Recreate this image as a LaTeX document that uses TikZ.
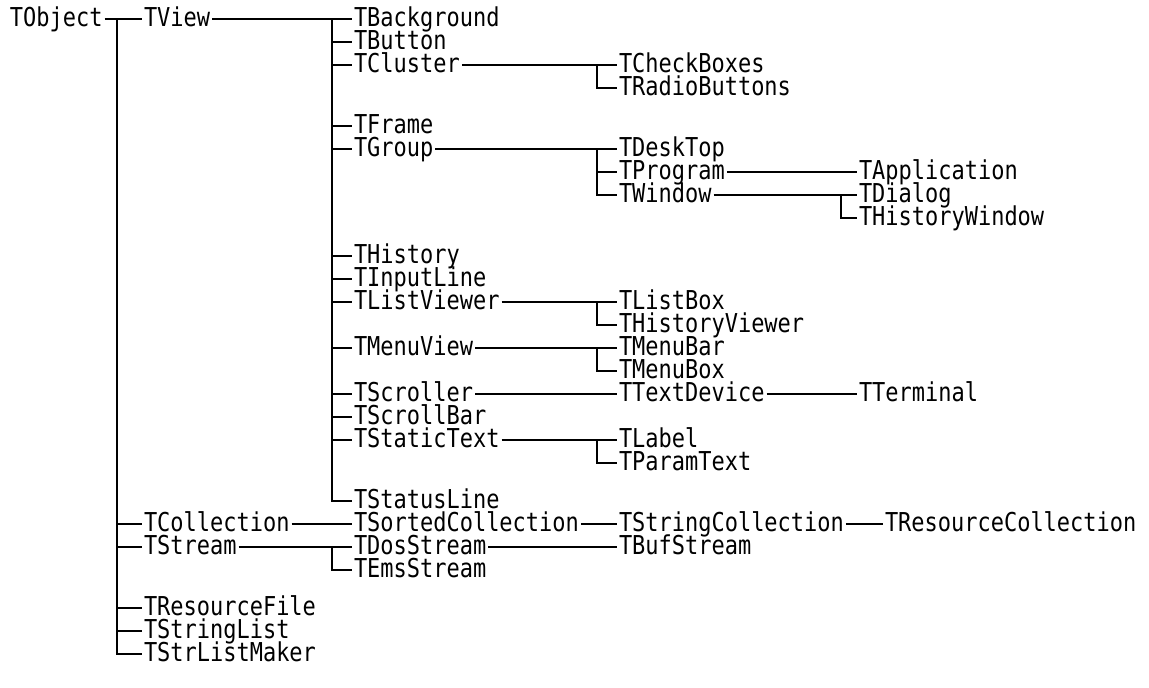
\documentclass[tikz,border=0pt]{standalone}
\usepackage{fontspec}
\newfontfamily\classfont[FakeStretch=0.845]{DejaVu Sans Mono}
\begin{document}
\begin{tikzpicture}[x=0.5pt, y=-0.5pt, line width=1pt,
  every node/.style={anchor=west, inner xsep=0.5pt, inner ysep=0pt,
    text height=8pt, text depth=0.5pt, font=\fontsize{13pt}{15pt}\classfont}]
  \useasboundingbox (0,0) rectangle (1149,687);

  % trunk positions
  \coordinate (a) at (117,0);
  \coordinate (b) at (332,0);
  \coordinate (c) at (597,0);
  \coordinate (d) at (841,0);

  \node (TObject) at (8,19) {TObject};

  \node (TView)         at (142,19)  {TView};
  \node (TCollection)   at (142,524) {TCollection};
  \node (TStream)       at (142,547) {TStream};
  \node (TResourceFile) at (142,608) {TResourceFile};
  \node (TStringList)   at (142,631) {TStringList};
  \node (TStrListMaker) at (142,654) {TStrListMaker};

  \node (TBackground) at (352,19)  {TBackground};
  \node (TButton)     at (352,42)  {TButton};
  \node (TCluster)    at (352,65)  {TCluster};
  \node (TFrame)      at (352,126) {TFrame};
  \node (TGroup)      at (352,149) {TGroup};
  \node (THistory)    at (352,256) {THistory};
  \node (TInputLine)  at (352,279) {TInputLine};
  \node (TListViewer) at (352,302) {TListViewer};
  \node (TMenuView)   at (352,348) {TMenuView};
  \node (TScroller)   at (352,394) {TScroller};
  \node (TScrollBar)  at (352,417) {TScrollBar};
  \node (TStaticText) at (352,440) {TStaticText};
  \node (TStatusLine) at (352,501) {TStatusLine};
  \node (TSortedCollection) at (352,524) {TSortedCollection};
  \node (TDosStream)  at (352,547) {TDosStream};
  \node (TEmsStream)  at (352,570) {TEmsStream};

  \node (TCheckBoxes)    at (617,65)  {TCheckBoxes};
  \node (TRadioButtons)  at (617,88)  {TRadioButtons};
  \node (TDeskTop)       at (617,149) {TDeskTop};
  \node (TProgram)       at (617,172) {TProgram};
  \node (TWindow)        at (617,195) {TWindow};
  \node (TListBox)       at (617,302) {TListBox};
  \node (THistoryViewer) at (617,325) {THistoryViewer};
  \node (TMenuBar)       at (617,348) {TMenuBar};
  \node (TMenuBox)       at (617,371) {TMenuBox};
  \node (TTextDevice)    at (617,394) {TTextDevice};
  \node (TLabel)         at (617,440) {TLabel};
  \node (TParamText)     at (617,463) {TParamText};
  \node (TStringCollection) at (617,524) {TStringCollection};
  \node (TBufStream)     at (617,547) {TBufStream};

  \node (TApplication)   at (857,172) {TApplication};
  \node (TDialog)        at (857,195) {TDialog};
  \node (THistoryWindow) at (857,218) {THistoryWindow};
  \node (TTerminal)      at (857,394) {TTerminal};
  \node (TResourceCollection) at (883,524) {TResourceCollection};

  % TObject
  \draw (TObject.east) -- (TView.west);
  \draw (TView.west -| a) |- (TStrListMaker.west);
  \foreach \n in {TCollection, TStream, TResourceFile, TStringList}
    \draw (\n.west -| a) -- (\n.west);

  % TView
  \draw (TView.east) -- (TBackground.west);
  \draw (TBackground.west -| b) |- (TStatusLine.west);
  \foreach \n in {TButton, TCluster, TFrame, TGroup, THistory, TInputLine,
                  TListViewer, TMenuView, TScroller, TScrollBar, TStaticText}
    \draw (\n.west -| b) -- (\n.west);

  \draw (TCluster.east) -- (TCheckBoxes.west);
  \draw (TCheckBoxes.west -| c) |- (TRadioButtons.west);

  \draw (TGroup.east) -- (TDeskTop.west);
  \draw (TDeskTop.west -| c) |- (TWindow.west);
  \draw (TProgram.west -| c) -- (TProgram.west);
  \draw (TProgram.east) -- (TApplication.west);
  \draw (TWindow.east) -- (TDialog.west);
  \draw (TDialog.west -| d) |- (THistoryWindow.west);

  \draw (TListViewer.east) -- (TListBox.west);
  \draw (TListBox.west -| c) |- (THistoryViewer.west);
  \draw (TMenuView.east) -- (TMenuBar.west);
  \draw (TMenuBar.west -| c) |- (TMenuBox.west);
  \draw (TScroller.east) -- (TTextDevice.west);
  \draw (TTextDevice.east) -- (TTerminal.west);
  \draw (TStaticText.east) -- (TLabel.west);
  \draw (TLabel.west -| c) |- (TParamText.west);

  % collections and streams
  \draw (TCollection.east) -- (TSortedCollection.west);
  \draw (TSortedCollection.east) -- (TStringCollection.west);
  \draw (TStringCollection.east) -- (TResourceCollection.west);
  \draw (TStream.east) -- (TDosStream.west);
  \draw (TDosStream.west -| b) |- (TEmsStream.west);
  \draw (TDosStream.east) -- (TBufStream.west);

\end{tikzpicture}
\end{document}
